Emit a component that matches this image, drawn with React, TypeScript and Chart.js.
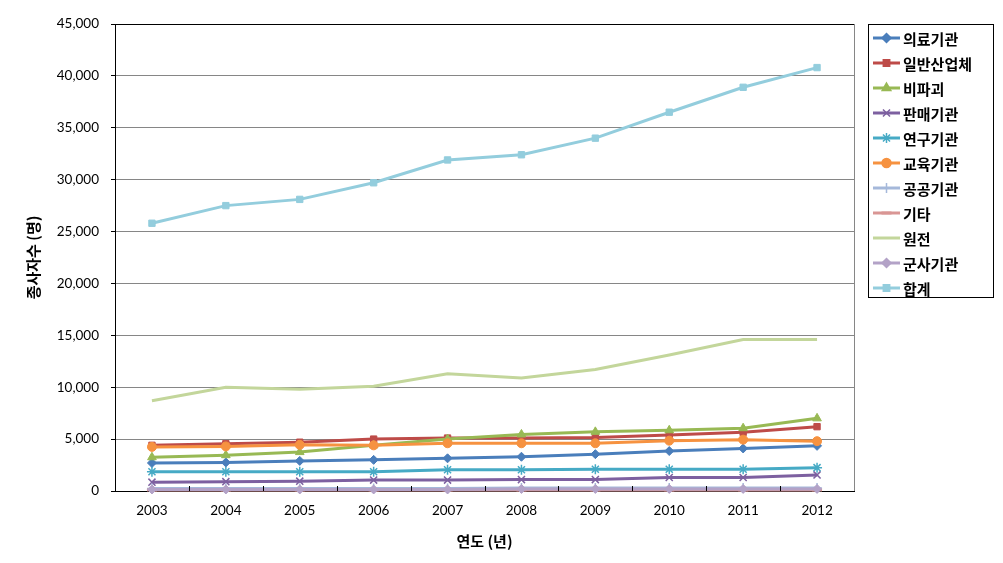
import React, { useEffect, useRef } from "react";
import { Chart, registerables } from "chart.js";
import { drawPoint } from "chart.js/helpers";

Chart.register(...registerables);

const years = ["2003", "2004", "2005", "2006", "2007", "2008", "2009", "2010", "2011", "2012"];

const medical = [2700, 2750, 2900, 3000, 3150, 3300, 3550, 3850, 4100, 4350];
const industry = [4400, 4550, 4700, 5000, 5100, 5100, 5150, 5400, 5650, 6200];
const ndt = [3250, 3450, 3750, 4400, 5000, 5450, 5700, 5850, 6050, 7000];
const sales = [850, 900, 950, 1050, 1050, 1100, 1100, 1300, 1300, 1550];
const research = [1850, 1850, 1850, 1850, 2050, 2050, 2100, 2100, 2100, 2250];
const education = [4250, 4300, 4450, 4400, 4600, 4600, 4600, 4850, 4950, 4800];
const publicOrg = [250, 250, 250, 250, 250, 300, 300, 300, 300, 300];
const other = [100, 100, 100, 100, 100, 100, 100, 100, 100, 100];
const nuclear = [8700, 10000, 9800, 10100, 11300, 10900, 11700, 13100, 14600, 14600];
const military = [150, 150, 150, 150, 150, 200, 200, 200, 200, 200];
const total = [25800, 27500, 28100, 29700, 31900, 32400, 34000, 36500, 38900, 40800];

const seriesNames = ["의료기관", "일반산업체", "비파괴", "판매기관", "연구기관", "교육기관", "공공기관", "기타", "원전", "군사기관", "합계"];
const seriesValues = [medical, industry, ndt, sales, research, education, publicOrg, other, nuclear, military, total];
const seriesColors = ["#4A7EBB", "#BE4B48", "#98B954", "#7D60A0", "#46AAC5", "#F69240", "#A5B8DA", "#D99694", "#C3D69B", "#B3A2C7", "#93CDDD"];
const seriesMarkers: any[] = ["rectRot", "rect", "triangle", "crossRot", "star", "circle", "cross", "line", false, "rectRot", "rect"];
const seriesRadius = [4.5, 4.5, 5, 5, 5, 4.5, 5, 5, 0, 4.5, 4.5];

const yTicks = { min: 0, max: 45000, step: 5000 };

const legendBoxPlugin = {
  id: "legendBox",
  afterDraw(chart: any) {
    const ctx = chart.ctx;
    const x0 = 868, y0 = 24, w = 125, h = 273;
    ctx.save();
    ctx.strokeStyle = "#000";
    ctx.lineWidth = 1;
    ctx.strokeRect(x0 + 0.5, y0 + 0.5, w, h);
    chart.data.datasets.forEach((ds: any, i: number) => {
      const y = y0 + 14 + i * 25;
      ctx.strokeStyle = ds.borderColor;
      ctx.lineWidth = 3;
      ctx.beginPath();
      ctx.moveTo(873, y);
      ctx.lineTo(900, y);
      ctx.stroke();
      if (ds.pointStyle) {
        ctx.fillStyle = ds.borderColor;
        ctx.strokeStyle = ds.borderColor;
        ctx.lineWidth = ds.pointStyle === "line" ? 3 : 1.5;
        drawPoint(ctx, { pointStyle: ds.pointStyle, radius: ds.pointRadius, borderWidth: ctx.lineWidth, rotation: 0 } as any, 886.5, y);
      }
      ctx.fillStyle = "#000";
      ctx.font = "bold 15px 'Noto Sans CJK KR', sans-serif";
      ctx.textBaseline = "middle";
      ctx.textAlign = "left";
      ctx.fillText(ds.label, 903, y + 1);
    });
    ctx.restore();
  },
};

const frameAndTicksPlugin = {
  id: "frameTicks",
  afterDatasetsDraw(chart: any) {
    const { ctx, chartArea } = chart;
    const xs = chart.scales.x;
    ctx.save();
    ctx.strokeStyle = "#868686";
    ctx.lineWidth = 1;
    ctx.beginPath();
    ctx.moveTo(Math.round(chartArea.right) + 0.5, chartArea.top);
    ctx.lineTo(Math.round(chartArea.right) + 0.5, chartArea.bottom);
    ctx.stroke();
    ctx.strokeStyle = "#000";
    const n = years.length;
    const step = (xs.right - xs.left) / n;
    ctx.beginPath();
    for (let i = 1; i < n; i++) {
      const x = Math.round(xs.left + i * step) + 0.5;
      ctx.moveTo(x, chartArea.bottom);
      ctx.lineTo(x, chartArea.bottom - 5);
    }
    ctx.stroke();
    ctx.restore();
  },
};

export default function App() {
  const canvasRef = useRef<HTMLCanvasElement | null>(null);

  useEffect(() => {
    document.body.style.margin = "0";
    const canvas = canvasRef.current;
    if (!canvas) return;
    const N = seriesNames.length;
    const datasets = seriesNames.map((name, i) => ({
      label: name,
      data: seriesValues[i],
      borderColor: seriesColors[i],
      backgroundColor: seriesColors[i],
      pointBackgroundColor: seriesColors[i],
      pointBorderColor: seriesColors[i],
      borderWidth: 3,
      pointStyle: seriesMarkers[i],
      pointRadius: seriesRadius[i],
      pointBorderWidth: seriesMarkers[i] === "crossRot" || seriesMarkers[i] === "cross" || seriesMarkers[i] === "star" ? 1.5 : seriesMarkers[i] === "line" ? 3 : 1,
      tension: 0,
      fill: false,
      clip: false as any,
      order: N - i,
    }));

    const chart = new Chart(canvas, {
      type: "line",
      data: { labels: years, datasets },
      plugins: [legendBoxPlugin, frameAndTicksPlugin],
      options: {
        animation: false,
        responsive: false,
        layout: { padding: { top: 24, right: 149, bottom: 0, left: 0 } },
        plugins: { legend: { display: false }, tooltip: { enabled: false } },
        scales: {
          x: {
            offset: true,
            grid: { display: true, drawOnChartArea: false, drawTicks: false, offset: true },
            border: { display: true, color: "#000", width: 1 },
            ticks: { color: "#000", padding: 12, font: { family: "Lato", size: 13.5 } },
            title: {
              display: true,
              text: "연도 (년)",
              color: "#000",
              font: { family: "'Noto Sans CJK KR'", size: 15, weight: "bold" },
              padding: { top: 0, bottom: 13 },
            },
            afterFit: (s: any) => {
              s.height = 72;
            },
          },
          y: {
            min: yTicks.min,
            max: yTicks.max,
            ticks: {
              stepSize: yTicks.step,
              color: "#000",
              padding: 12,
              font: { family: "Lato", size: 13.5 },
              callback: (v: any) => Number(v).toLocaleString("en-US"),
            },
            grid: {
              color: (c: any) => (c.tick && c.tick.value === yTicks.max ? "#000" : "#868686"),
              tickColor: "#000",
              tickLength: 4,
              lineWidth: 1,
            },
            border: { display: true, color: "#000", width: 1 },
            title: {
              display: true,
              text: "종사자수 (명)",
              color: "#000",
              font: { family: "'Noto Sans CJK KR'", size: 15, weight: "bold" },
              padding: { top: 24, bottom: 0 },
            },
            afterFit: (s: any) => {
              s.width = 115;
            },
          },
        },
      } as any,
    });
    return () => chart.destroy();
  }, []);

  return (
    <div style={{ width: 1003, height: 563, background: "#fff" }}>
      <canvas ref={canvasRef} width={1003} height={563} style={{ display: "block", width: 1003, height: 563 }} />
    </div>
  );
}
